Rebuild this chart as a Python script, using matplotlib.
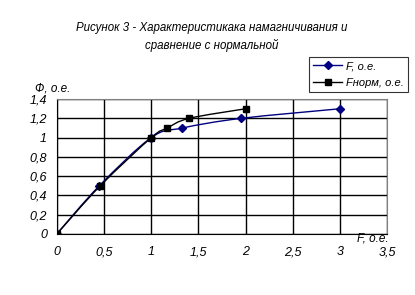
import matplotlib.pyplot as plt
from matplotlib.path import Path
from matplotlib.patches import PathPatch
from matplotlib.lines import Line2D

plt.rcParams['font.family'] = 'Liberation Sans'

# F, o.e. (blue diamonds)
f_x = [0, 0.45, 1, 1.33, 1.95, 3]
f_y = [0, 0.5, 1, 1.1, 1.2, 1.3]
# Fнорм, o.e. (black squares)
fn_x = [0, 0.46, 1, 1.17, 1.4, 2]
fn_y = [0, 0.5, 1, 1.1, 1.2, 1.3]

x_ticks = [0, 0.5, 1, 1.5, 2, 2.5, 3, 3.5]
y_ticks = [0, 0.2, 0.4, 0.6, 0.8, 1, 1.2, 1.4]


def fmt(v):
    return ("%g" % v).replace(".", ",")


def smooth_path(xs, ys):
    # Catmull-Rom style bezier through the points (like Excel smoothed line)
    pts = list(zip(xs, ys))
    verts = [pts[0]]
    codes = [Path.MOVETO]
    for i in range(len(pts) - 1):
        p0 = pts[i - 1] if i > 0 else pts[i]
        p1 = pts[i]
        p2 = pts[i + 1]
        p3 = pts[i + 2] if i + 2 < len(pts) else pts[i + 1]
        c1 = (p1[0] + (p2[0] - p0[0]) / 6, p1[1] + (p2[1] - p0[1]) / 6)
        c2 = (p2[0] - (p3[0] - p1[0]) / 6, p2[1] - (p3[1] - p1[1]) / 6)
        verts += [c1, c2, p2]
        codes += [Path.CURVE4] * 3
    return Path(verts, codes)


fig = plt.figure(figsize=(4.15, 2.95), dpi=100)
ax = fig.add_axes([0.137, 0.207, 0.796, 0.457])

ax.add_patch(PathPatch(smooth_path(f_x, f_y), fill=False, edgecolor="#000080", lw=1))
ax.add_patch(PathPatch(smooth_path(fn_x, fn_y), fill=False, edgecolor="black", lw=1))
ax.plot(f_x, f_y, ls="none", marker="D", ms=4, color="#000080", label="F, о.е.")
ax.plot(fn_x, fn_y, ls="none", marker="s", ms=5, color="black", label="Fнорм, о.е.")

ax.set_xlim(0, 3.5)
ax.set_ylim(0, 1.4)
ax.set_xticks(x_ticks)
ax.set_yticks(y_ticks)
ax.set_xticklabels([fmt(v) for v in x_ticks], fontsize=9, style="italic")
ax.set_yticklabels([fmt(v) for v in y_ticks], fontsize=9, style="italic")
ax.tick_params(axis="x", length=0, pad=9)
ax.tick_params(axis="y", length=0, pad=7)
ax.grid(True, color="black", lw=1)
ax.set_axisbelow(True)
for s in ["top", "right"]:
    ax.spines[s].set_color("#808080")
for s in ["left", "bottom"]:
    ax.spines[s].set_color("black")

fig.text(0.084, 0.68, "Ф, о.е.", fontsize=8.5, style="italic", va="bottom")
fig.text(0.86, 0.19, "F, о.е.", fontsize=8.5, style="italic", va="center")

fig.text(0.51, 0.875, "Рисунок 3 - Характеристикака намагничивания и\nсравнение с нормальной",
         ha="center", va="center", fontsize=8.3, style="italic", linespacing=1.45)

handles = [Line2D([], [], color="#000080", marker="D", ms=4, lw=1),
           Line2D([], [], color="black", marker="s", ms=5, lw=1)]
leg = fig.legend(handles, ["F, о.е.", "Fнорм, о.е."], loc="upper right",
                 bbox_to_anchor=(0.983, 0.807), borderaxespad=0, frameon=True, fancybox=False,
                 edgecolor="black", prop={"style": "italic", "size": 8},
                 handlelength=2.6, handletextpad=0.3, borderpad=0.4, labelspacing=0.6)
leg.get_frame().set_linewidth(0.8)

fig.savefig("out.png", dpi=100)
